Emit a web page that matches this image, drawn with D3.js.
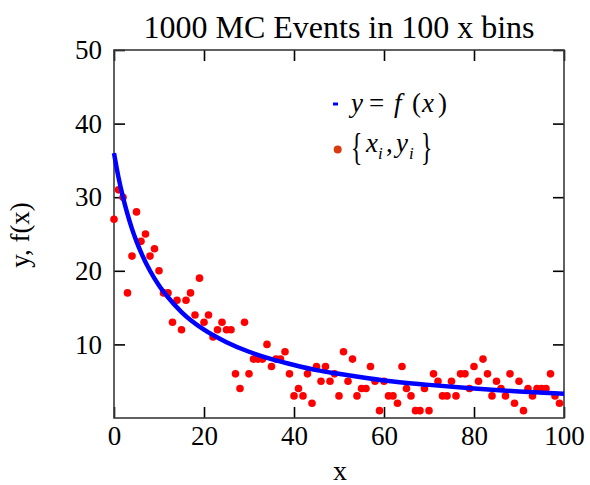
<!DOCTYPE html>
<html>
<head>
<meta charset="utf-8">
<script src="https://cdn.jsdelivr.net/npm/d3@7"></script>
<style>
  html, body { margin: 0; padding: 0; background: #fff; }
  svg { display: block; }
  text { font-family: "Liberation Serif", "Times New Roman", serif; fill: #000; }
</style>
</head>
<body>
<svg id="chart" width="590" height="485"></svg>
<script>
// Bin contents: one count per x bin (bins 0..99)
const binCounts = [
  27, 31, 30, 17, 22, 28, 24, 25, 22, 23,
  20, 17, 17, 13, 16, 12, 16, 17, 14, 19,
  13, 14, 11, 12, 13, 12, 12,  6,  4, 13,
   6,  8,  8,  8, 10,  7,  8,  8,  9,  6,
   3,  4,  3,  6,  2,  7,  5,  7,  5,  6,
   3,  9,  5,  8,  3,  4,  4,  7,  5,  1,
   5,  3,  3,  2,  7,  4,  3,  1,  1,  4,
   1,  6,  5,  3,  3,  5,  3,  6,  6,  4,
   7,  5,  8,  6,  3,  5,  4,  3,  6,  2,
   5,  1,  4,  3,  4,  4,  4,  6,  3,  2
];
const binX = binCounts.map((_, i) => i);

// Model curve y = f(x), sampled
const curveX = [0, 1, 2, 3, 4, 5, 6, 8, 10, 12, 15, 20, 25, 30, 35, 40, 45, 50, 60, 70, 80, 90, 100];
const curveY = [36, 32.7, 30, 27.7, 25.7, 24, 22.5, 20, 18, 16.4, 14.4, 12, 10.3, 9, 8, 7.2, 6.5, 6, 5.1, 4.5, 4, 3.6, 3.3];

const xTicks = [0, 20, 40, 60, 80, 100];
const yTicks = [10, 20, 30, 40, 50];

const titleText = "1000 MC Events in 100 x bins";
const xLabel = "x";
const yLabel = "y, f(x)";

const svg = d3.select("#chart");
const plotL = 114, plotR = 564, plotT = 50, plotB = 418;

const x = d3.scaleLinear().domain([0, 100]).range([plotL, plotR]);
const y = d3.scaleLinear().domain([0, 50]).range([plotB, plotT]);

const tickLen = 11;
const tickFont = "27px";
const serif = '"Liberation Serif", "Times New Roman", serif';

// Bottom axis with labels, ticks pointing inward
const gB = svg.append("g").attr("transform", `translate(0,${plotB})`)
  .call(d3.axisBottom(x).tickValues(xTicks).tickSizeInner(-tickLen).tickSizeOuter(0).tickPadding(8));
// Left axis with labels
const gL = svg.append("g").attr("transform", `translate(${plotL},0)`)
  .call(d3.axisLeft(y).tickValues(yTicks).tickSizeInner(-tickLen).tickSizeOuter(0).tickPadding(12));
// Top and right: ticks only
const gT = svg.append("g").attr("transform", `translate(0,${plotT})`)
  .call(d3.axisTop(x).tickValues(xTicks).tickSizeInner(-tickLen).tickSizeOuter(0).tickFormat(""));
const gR = svg.append("g").attr("transform", `translate(${plotR},0)`)
  .call(d3.axisRight(y).tickValues(yTicks).tickSizeInner(-tickLen).tickSizeOuter(0).tickFormat(""));

[gB, gL, gT, gR].forEach(g => {
  g.attr("font-family", serif);
  g.select(".domain").remove();
  g.selectAll(".tick line").attr("stroke", "#000").attr("stroke-width", 1.6);
  g.selectAll(".tick text")
    .style("font-family", serif)
    .style("font-size", tickFont)
    .attr("fill", "#000");
});

// Frame
svg.append("rect")
  .attr("x", plotL).attr("y", plotT)
  .attr("width", plotR - plotL).attr("height", plotB - plotT)
  .attr("fill", "none").attr("stroke", "#3a3a3a").attr("stroke-width", 1.6);

// Data points
svg.append("g").selectAll("circle")
  .data(binX.map((bx, i) => ({ bx, c: binCounts[i] })))
  .join("circle")
  .attr("cx", d => x(d.bx))
  .attr("cy", d => y(d.c))
  .attr("r", 3.8)
  .attr("fill", "#ff0000");

// Model curve
const line = d3.line()
  .x(d => x(d[0]))
  .y(d => y(d[1]))
  .curve(d3.curveMonotoneX);
svg.append("path")
  .datum(curveX.map((cx, i) => [cx, curveY[i]]))
  .attr("d", line)
  .attr("fill", "none")
  .attr("stroke", "#0000ff")
  .attr("stroke-width", 4.5);

// Title
svg.append("text")
  .attr("x", 339).attr("y", 38)
  .attr("text-anchor", "middle")
  .style("font-size", "32px")
  .text(titleText);

// Axis titles
svg.append("text")
  .attr("x", 340).attr("y", 480)
  .attr("text-anchor", "middle")
  .style("font-size", "28px")
  .text(xLabel);

svg.append("text")
  .attr("transform", "translate(29,235) rotate(-90)")
  .attr("text-anchor", "middle")
  .style("font-size", "27px")
  .text(yLabel);

// Legend: model curve entry
svg.append("rect")
  .attr("x", 333).attr("y", 102.5)
  .attr("width", 5).attr("height", 3)
  .attr("fill", "#0000ff");

const leg1 = svg.append("text")
  .attr("y", 112)
  .style("font-size", "27px");
leg1.append("tspan").attr("x", 351).style("font-style", "italic").text("y");
leg1.append("tspan").attr("x", 369).text("=");
leg1.append("tspan").attr("x", 394).style("font-style", "italic").text("f");
leg1.append("tspan").attr("x", 412).text("(");
leg1.append("tspan").attr("x", 422).style("font-style", "italic").text("x");
leg1.append("tspan").attr("x", 438).text(")");

// Legend: data points entry
svg.append("circle")
  .attr("cx", 337.7).attr("cy", 149.5)
  .attr("r", 4)
  .attr("fill", "#d93a10");

// Tall, narrow braces around the pair
svg.append("text")
  .attr("transform", "translate(351,160) scale(0.62,1)")
  .style("font-size", "38px")
  .text("{");
svg.append("text")
  .attr("transform", "translate(421,160) scale(0.62,1)")
  .style("font-size", "38px")
  .text("}");

const leg2 = svg.append("text")
  .attr("y", 152)
  .style("font-size", "27px");
leg2.append("tspan").attr("x", 366).attr("y", 152).style("font-style", "italic").text("x");
leg2.append("tspan").attr("x", 378).attr("y", 159).style("font-style", "italic").style("font-size", "17px").text("i");
leg2.append("tspan").attr("x", 386).attr("y", 152).text(",");
leg2.append("tspan").attr("x", 396).attr("y", 152).style("font-style", "italic").text("y");
leg2.append("tspan").attr("x", 409).attr("y", 159).style("font-style", "italic").style("font-size", "17px").text("i");
</script>
</body>
</html>
